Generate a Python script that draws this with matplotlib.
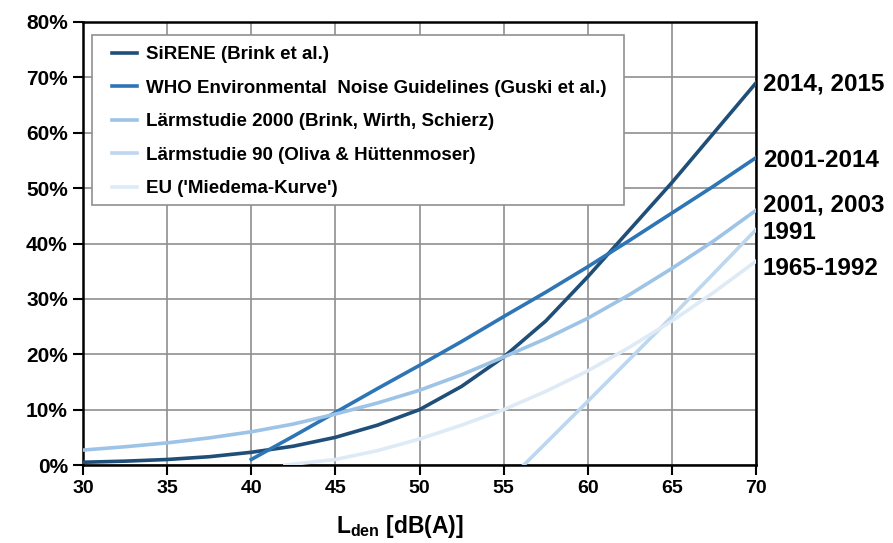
import numpy as np
import matplotlib.pyplot as plt
from matplotlib.patches import Rectangle

plt.rcParams['font.family'] = ['Liberation Sans', 'DejaVu Sans']
plt.rcParams['mathtext.fontset'] = 'custom'
plt.rcParams['mathtext.rm'] = 'Liberation Sans:bold'
plt.rcParams['mathtext.bf'] = 'Liberation Sans:bold'

# values (L_den in dB(A), % highly annoyed)
sirene_x = [30, 32.5, 35, 37.5, 40, 42.5, 45, 47.5, 50, 52.5, 55, 57.5, 60, 62.5, 65, 67.5, 70]
sirene_y = [0.5, 0.7, 1.0, 1.5, 2.3, 3.4, 5.0, 7.2, 10.0, 14.2, 19.5, 26.0, 34.0, 42.5, 51.0, 60.0, 69.0]

who_x = [40, 42.5, 45, 47.5, 50, 52.5, 55, 57.5, 60, 62.5, 65, 67.5, 70]
who_y = [1.0, 5.2, 9.5, 13.8, 18.0, 22.3, 26.8, 31.2, 35.8, 40.6, 45.5, 50.4, 55.5]

l2000_x = [30, 32.5, 35, 37.5, 40, 42.5, 45, 47.5, 50, 52.5, 55, 57.5, 60, 62.5, 65, 67.5, 70]
l2000_y = [2.7, 3.3, 4.0, 4.9, 6.0, 7.4, 9.2, 11.2, 13.5, 16.3, 19.5, 22.8, 26.5, 30.8, 35.5, 40.5, 46.0]

l90_x = [56.2, 60, 65, 70]
l90_y = [0.0, 11.5, 26.8, 42.5]

eu_x = [42, 45, 47.5, 50, 52.5, 55, 57.5, 60, 62.5, 65, 67.5, 70]
eu_y = [0.0, 1.0, 2.6, 4.7, 7.2, 10.0, 13.3, 17.0, 21.3, 26.0, 31.2, 36.8]

names = ["SiRENE (Brink et al.)",
         "WHO Environmental  Noise Guidelines (Guski et al.)",
         "Lärmstudie 2000 (Brink, Wirth, Schierz)",
         "Lärmstudie 90 (Oliva & Hüttenmoser)",
         "EU ('Miedema-Kurve')"]
years = ["2014, 2015", "2001-2014", "2001, 2003", "1991", "1965-1992"]
year_y = [68.8, 55.0, 47.0, 42.0, 35.5]
colors = ["#1f4e79", "#2e75b6", "#9dc3e6", "#bdd7ee", "#deebf7"]

xs = [sirene_x, who_x, l2000_x, l90_x, eu_x]
ys = [sirene_y, who_y, l2000_y, l90_y, eu_y]

fig = plt.figure(figsize=(8.93, 5.43), dpi=100)
ax = fig.add_axes([0.093, 0.1436, 0.7536, 0.8159])

for x, y, c, n in zip(xs, ys, colors, names):
    ax.plot(x, y, color=c, lw=2.6, label=n, zorder=3, solid_joinstyle='round')

ax.set_xlim(30, 70)
ax.set_ylim(0, 80)
ax.set_xticks(range(30, 71, 5))
ax.set_yticks(range(0, 81, 10))
ax.set_yticklabels([f"{v}%" for v in range(0, 81, 10)])
ax.grid(True, color="#8f8f8f", lw=1.2, zorder=0)
for s in ax.spines.values():
    s.set_linewidth(1.8)
ax.tick_params(axis='both', direction='out', length=7, width=1.5, pad=4)
ax.tick_params(axis='x', labelsize=14)
ax.tick_params(axis='y', labelsize=15)
for lab in ax.get_xticklabels() + ax.get_yticklabels():
    lab.set_fontweight('bold')

ax.set_xlabel(r"$\mathbf{L_{den}}$ [dB(A)]", fontsize=16.5, fontweight='bold')
ax.xaxis.set_label_coords(0.471, -0.108)

for t, yy in zip(years, year_y):
    ax.text(70.4, yy, t, fontsize=17.5, fontweight='bold', va='center',
            ha='left', clip_on=False)

# legend box drawn separately so the padding can match the reference
box = Rectangle((0.0134, 0.5869), 0.7905, 0.3838, transform=ax.transAxes,
                facecolor='white', edgecolor='#909090', lw=1.2, zorder=4)
ax.add_patch(box)
leg = ax.legend(loc='upper left', bbox_to_anchor=(0.043, 0.945), frameon=False,
                prop={'weight': 'bold', 'size': 13.5}, borderpad=0, borderaxespad=0,
                handlelength=1.35, handletextpad=0.45, labelspacing=0.87)
leg.set_zorder(5)

fig.savefig("out.png", dpi=100)
